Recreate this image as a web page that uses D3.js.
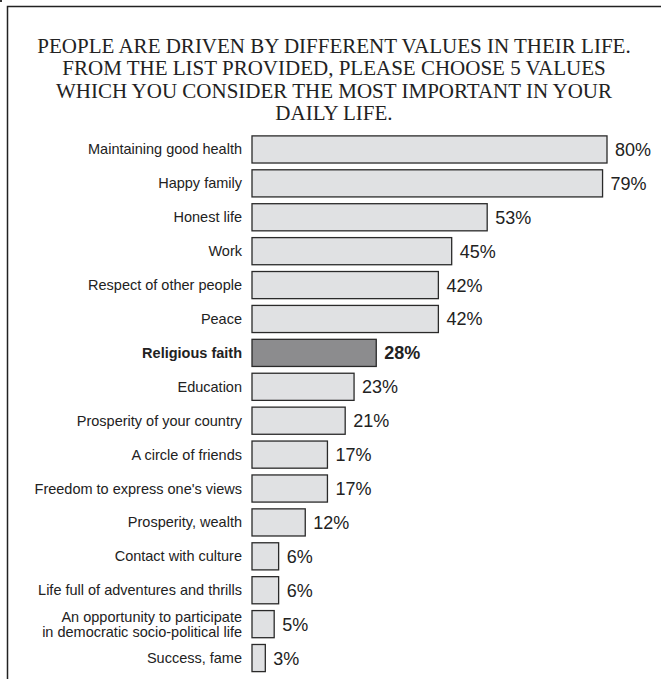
<!DOCTYPE html>
<html>
<head>
<meta charset="utf-8">
<script src="https://cdn.jsdelivr.net/npm/d3@7"></script>
<style>
  body { margin: 0; background: #fff; }
</style>
</head>
<body>
<svg id="chart" width="661" height="679"></svg>
<script>
// values
const titleLines = [
  "PEOPLE ARE DRIVEN BY DIFFERENT VALUES IN THEIR LIFE.",
  "FROM THE LIST PROVIDED, PLEASE CHOOSE 5 VALUES",
  "WHICH YOU CONSIDER THE MOST IMPORTANT IN YOUR",
  "DAILY LIFE."
];
const categories = [
  "Maintaining good health",
  "Happy family",
  "Honest life",
  "Work",
  "Respect of other people",
  "Peace",
  "Religious faith",
  "Education",
  "Prosperity of your country",
  "A circle of friends",
  "Freedom to express one's views",
  "Prosperity, wealth",
  "Contact with culture",
  "Life full of adventures and thrills",
  "An opportunity to participate\nin democratic socio-political life",
  "Success, fame"
];
const values = [80, 79, 53, 45, 42, 42, 28, 23, 21, 17, 17, 12, 6, 6, 5, 3];
const highlighted = ["Religious faith"];

const svg = d3.select("#chart");

// frame
svg.append("path")
  .attr("d", "M7.5,679 V6.5 H661")
  .attr("fill", "none")
  .attr("stroke", "#222")
  .attr("stroke-width", 1.5);
svg.append("rect").attr("x", 0).attr("y", 0).attr("width", 2).attr("height", 2).attr("fill", "#333");

// title
svg.append("g")
  .selectAll("text")
  .data(titleLines)
  .enter()
  .append("text")
  .attr("x", 334)
  .attr("y", (d, i) => 53 + i * 22.3)
  .attr("text-anchor", "middle")
  .attr("font-family", "'Liberation Serif', 'Times New Roman', serif")
  .attr("font-size", 21)
  .attr("fill", "#222")
  .text(d => d);

const xScale = d3.scaleLinear()
  .domain([0, 80])
  .range([252, 607]);

const yScale = d3.scaleBand()
  .domain(categories)
  .range([132.5, 675])
  .paddingInner(0.2)
  .paddingOuter(0.1);

const rows = svg.append("g")
  .selectAll("g")
  .data(categories.map((c, i) => ({ cat: c, value: values[i], hi: highlighted.includes(c) })))
  .enter()
  .append("g");

rows.append("rect")
  .attr("x", xScale(0))
  .attr("y", d => yScale(d.cat))
  .attr("width", d => xScale(d.value) - xScale(0))
  .attr("height", yScale.bandwidth())
  .attr("fill", d => d.hi ? "#8c8c8e" : "#e0e1e3")
  .attr("stroke", "#2a2a2a")
  .attr("stroke-width", 1.3);

rows.each(function (d) {
  const lines = d.cat.split("\n");
  const cy = yScale(d.cat) + yScale.bandwidth() / 2;
  const t = d3.select(this).append("text")
    .attr("text-anchor", "end")
    .attr("font-family", "'Liberation Sans', Arial, sans-serif")
    .attr("font-size", 14.5)
    .attr("font-weight", d.hi ? "bold" : "normal")
    .attr("fill", "#222");
  lines.forEach((line, j) => {
    t.append("tspan")
      .attr("x", xScale(0) - 10)
      .attr("y", cy + 5 + (j - (lines.length - 1) / 2) * 15)
      .text(line);
  });
});

rows.append("text")
  .attr("x", d => xScale(d.value) + 8)
  .attr("y", d => yScale(d.cat) + yScale.bandwidth() / 2 + 6.5)
  .attr("font-family", "'Liberation Sans', Arial, sans-serif")
  .attr("font-size", 18)
  .attr("font-weight", d => d.hi ? "bold" : "normal")
  .attr("fill", "#222")
  .text(d => d.value + "%");
</script>
</body>
</html>
